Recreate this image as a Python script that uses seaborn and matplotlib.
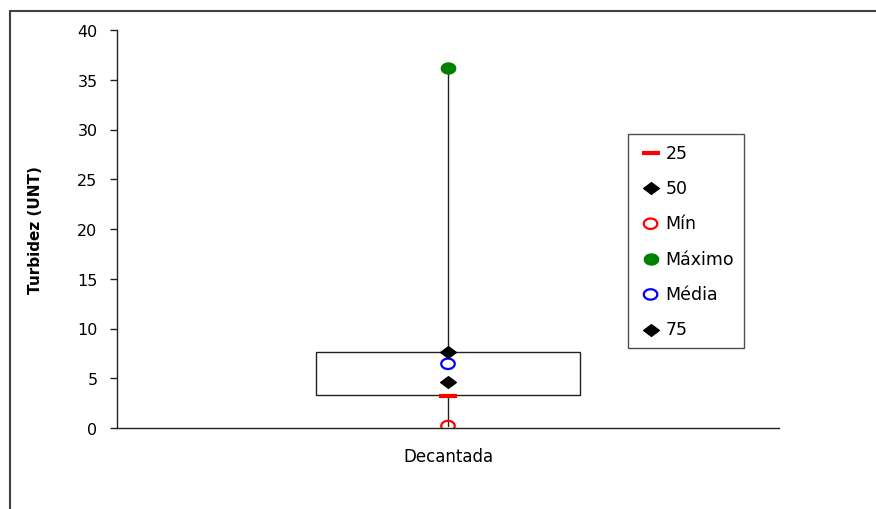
import numpy as np
import pandas as pd
import seaborn as sns
import matplotlib.pyplot as plt
from matplotlib.lines import Line2D

# data
category = "Decantada"
box_q1 = 3.3
box_q3 = 7.6
whisker_low = 0.2
whisker_high = 36.2
series_names = ["25", "50", "Mín", "Máximo", "Média", "75"]
series_values = [3.25, 4.65, 0.2, 36.2, 6.45, 7.6]

sns.set_theme(style="white")
plt.rcParams['font.family'] = ['DejaVu Sans']
plt.rcParams['text.color'] = 'black'
plt.rcParams['xtick.color'] = 'black'
plt.rcParams['ytick.color'] = 'black'
plt.rcParams['axes.labelcolor'] = 'black'

# stretched markers (the original is a bit wider than tall)
t = np.linspace(0, 2 * np.pi, 40)
ellipse = list(zip(1.3 * np.cos(t), np.sin(t)))
diamond = [(0, 0.75), (1, 0), (0, -0.75), (-1, 0), (0, 0.75)]

styles = {
    "25": dict(marker="_", color="#ff0000", s=150, linewidth=3),
    "50": dict(marker=diamond, color="black", s=130, edgecolor="black"),
    "Mín": dict(marker=ellipse, facecolor="none", edgecolor="#ff0000", s=95, linewidth=1.6),
    "Máximo": dict(marker=ellipse, color="#008000", s=110, edgecolor="#008000"),
    "Média": dict(marker=ellipse, facecolor="none", edgecolor="#0000ff", s=95, linewidth=1.6),
    "75": dict(marker=diamond, color="black", s=130, edgecolor="black"),
}

fig = plt.figure(figsize=(8.76, 5.10), dpi=100)
ax = fig.add_axes([117 / 876, 1 - 429 / 510, 662 / 876, 398 / 510])

stats = [dict(whislo=whisker_low, q1=box_q1, med=box_q1, q3=box_q3,
              whishi=whisker_high, fliers=[])]
ax.bxp(stats, positions=[0], widths=0.4, showcaps=False, patch_artist=True,
       boxprops=dict(facecolor="white", edgecolor="#222222", linewidth=1),
       whiskerprops=dict(color="#222222", linewidth=1),
       medianprops=dict(visible=False), zorder=2)

df = pd.DataFrame({"serie": series_names, "valor": series_values, "x": 0})
for name, val in zip(series_names, series_values):
    sub = df[df["serie"] == name]
    sns.scatterplot(data=sub, x="x", y="valor", label=name, ax=ax, zorder=4,
                    **styles[name])

ax.set_xlim(-0.5, 0.5)
ax.set_ylim(0, 40)
ax.set_yticks(np.arange(0, 41, 5))
ax.set_xticks([0])
ax.set_xticklabels([category])
ax.set_xticks([-0.5, 0.5], minor=True)
ax.tick_params(axis="x", which="major", length=0, pad=14, labelsize=12)
ax.tick_params(axis="x", which="minor", length=4, direction="out", color="#222222", width=1)
ax.tick_params(axis="y", length=5, direction="out", color="#222222", width=1,
               labelsize=11.5, left=True, pad=9)
ax.set_xlabel("")
ax.set_ylabel("Turbidez (UNT)", fontsize=11, fontweight="bold")
ax.yaxis.set_label_coords(-0.112, 0.5)

for side in ["top", "right"]:
    ax.spines[side].set_visible(False)
for side in ["left", "bottom"]:
    ax.spines[side].set_color("#222222")
    ax.spines[side].set_linewidth(1)

leg = ax.legend(loc="upper left", bbox_to_anchor=((628 - 117) / 662, (429 - 135) / 398),
                borderaxespad=0, frameon=True, fancybox=False, fontsize=12.5,
                labelspacing=1.0, handletextpad=0.1, handlelength=1.5,
                borderpad=0.55, edgecolor="#222222")
leg.get_frame().set_linewidth(1)

# outer chart-area frame (only top and left edges visible)
fig.add_artist(Line2D([10 / 876, 1], [1 - 12 / 510] * 2, color="#404040", lw=1.5,
                      transform=fig.transFigure))
fig.add_artist(Line2D([10 / 876] * 2, [0, 1 - 12 / 510], color="#404040", lw=1.5,
                      transform=fig.transFigure))

fig.savefig("out.png", dpi=100)
